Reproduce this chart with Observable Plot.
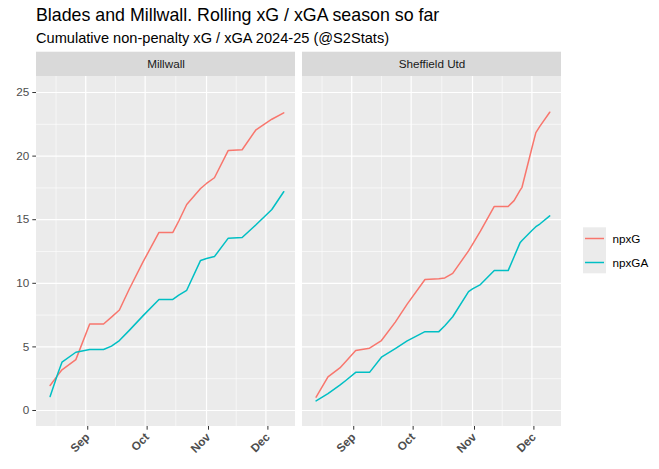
<!DOCTYPE html>
<html><head><meta charset="utf-8">
<script src="https://cdn.jsdelivr.net/npm/d3@7"></script>
<script src="https://cdn.jsdelivr.net/npm/@observablehq/plot@0.6"></script>
<style>
body{margin:0;background:#fff;}
#wrap{width:659px;height:469px;}
</style></head>
<body><div id="wrap"></div>
<script>
const chartTitle = "Blades and Millwall. Rolling xG / xGA season so far";
const chartSubtitle = "Cumulative non-penalty xG / xGA 2024-25 (@S2Stats)";
const teams = ["Millwall", "Sheffield Utd"];
const seriesNames = ["npxG", "npxGA"];
const seriesColors = ["#F8766D", "#00BFC4"];

const millwallDates = ["2024-08-14","2024-08-18","2024-08-20","2024-08-27","2024-09-03","2024-09-10","2024-09-14","2024-09-18","2024-09-23","2024-09-30","2024-10-08","2024-10-15","2024-10-18","2024-10-22","2024-10-29","2024-11-01","2024-11-05","2024-11-12","2024-11-19","2024-11-26","2024-12-01","2024-12-04","2024-12-10"];
const millwallNpxG  = [1.97, 2.8, 3.2, 4.0, 6.8, 6.8, 7.34, 7.9, 9.55, 11.7, 14.0, 14.0, 14.9, 16.2, 17.45, 17.85, 18.3, 20.45, 20.5, 22.07, 22.6, 22.9, 23.4];
const millwallNpxGA = [1.1, 2.95, 3.8, 4.58, 4.8, 4.8, 5.06, 5.5, 6.3, 7.46, 8.73, 8.73, 9.07, 9.45, 11.8, 11.95, 12.1, 13.55, 13.6, 14.6, 15.35, 15.8, 17.2];

const sheffieldDates = ["2024-08-14","2024-08-20","2024-08-26","2024-08-29","2024-09-03","2024-09-10","2024-09-16","2024-09-23","2024-09-29","2024-10-08","2024-10-15","2024-10-18","2024-10-22","2024-10-30","2024-11-01","2024-11-05","2024-11-12","2024-11-19","2024-11-22","2024-11-25","2024-11-26","2024-12-01","2024-12-03","2024-12-05","2024-12-10"];
const sheffieldNpxG  = [1.05, 2.65, 3.35, 3.85, 4.72, 4.9, 5.5, 6.95, 8.36, 10.3, 10.35, 10.42, 10.78, 12.55, 13.06, 14.1, 16.04, 16.04, 16.5, 17.3, 17.55, 20.64, 21.85, 22.34, 23.45];
const sheffieldNpxGA = [0.75, 1.33, 1.99, 2.36, 3.0, 3.0, 4.19, 4.87, 5.47, 6.2, 6.2, 6.66, 7.37, 9.35, 9.56, 9.9, 11.0, 11.0, 12.09, 13.18, 13.36, 14.15, 14.45, 14.66, 15.3];

const xTickDates = ["2024-09-01","2024-10-01","2024-11-01","2024-12-01"];
const yTicks = [0, 5, 10, 15, 20, 25];

// ---- build table ----
const rows = [];
function addTeam(team, dates, g, ga) {
  dates.forEach((d, i) => {
    rows.push({team, date: new Date(d), series: seriesNames[0], value: g[i]});
    rows.push({team, date: new Date(d), series: seriesNames[1], value: ga[i]});
  });
}
addTeam(teams[0], millwallDates, millwallNpxG, millwallNpxGA);
addTeam(teams[1], sheffieldDates, sheffieldNpxG, sheffieldNpxGA);

const DAY = 86400000;
const xMajor = xTickDates.map(d => new Date(d));
const xMinor = [];
xMinor.push(new Date(+xMajor[0] - (xMajor[1] - xMajor[0]) / 2));
for (let i = 0; i < xMajor.length - 1; i++) xMinor.push(new Date((+xMajor[i] + +xMajor[i + 1]) / 2));
const yMinor = yTicks.slice(0, -1).map((v, i) => (v + yTicks[i + 1]) / 2);

const xDomain = [new Date(+xMajor[0] - 24.87 * DAY), new Date(+xMajor[0] + 105.95 * DAY)];
const xMid = new Date((+xDomain[0] + +xDomain[1]) / 2);
const yBottom = -1.258, yPanelTop = 26.26, yStripTop = 28.17;

const W = 659, H = 469;
const font = "'Liberation Sans', Arial, sans-serif";

const plot = Plot.plot({
  width: W, height: H,
  marginLeft: 36, marginRight: 97.4, marginTop: 51.7, marginBottom: 43,
  style: {fontFamily: font, background: "white", overflow: "visible"},
  fx: {domain: teams, paddingInner: 7.1 / 266.4, paddingOuter: 0, axis: null, label: null},
  x: {type: "utc", domain: xDomain, label: null},
  y: {domain: [yBottom, yStripTop], label: null},
  color: {domain: seriesNames, range: seriesColors},
  marks: [
    Plot.rect([0], {x1: () => xDomain[0], x2: () => xDomain[1], y1: () => yBottom, y2: () => yPanelTop, fill: "#EBEBEB"}),
    Plot.rect(teams, {fx: d => d, x1: () => xDomain[0], x2: () => xDomain[1], y1: () => yPanelTop, y2: () => yStripTop, fill: "#D9D9D9"}),
    Plot.text(teams, {fx: d => d, x: () => xMid, y: () => (yPanelTop + yStripTop) / 2, text: d => d, fill: "#1A1A1A", fontSize: 11.7}),
    Plot.ruleY(yMinor, {y: d => d, x1: () => xDomain[0], x2: () => xDomain[1], stroke: "white", strokeWidth: 0.6}),
    Plot.ruleX(xMinor, {x: d => d, y1: () => yBottom, y2: () => yPanelTop, stroke: "white", strokeWidth: 0.6}),
    Plot.ruleY(yTicks, {y: d => d, x1: () => xDomain[0], x2: () => xDomain[1], stroke: "white", strokeWidth: 1.2}),
    Plot.ruleX(xMajor, {x: d => d, y1: () => yBottom, y2: () => yPanelTop, stroke: "white", strokeWidth: 1.2}),
    Plot.line(rows, {fx: "team", x: "date", y: "value", z: "series", stroke: "series", strokeWidth: 1.5}),
    Plot.axisY(yTicks, {tickSize: 3.7, tickPadding: 3.6, fontSize: 11.7, fill: "#4D4D4D", stroke: "#333333", label: null}),
    Plot.axisX(xMajor, {tickSize: 3.7, tickPadding: 5, dx: 2, tickFormat: d3.utcFormat("%b"), tickRotate: -45, fontSize: 11.7, fontWeight: "bold", fill: "#4D4D4D", stroke: "#333333", label: null})
  ]
});

const svg = d3.select(plot);
svg.append("text").attr("x", 36).attr("y", 20.5).attr("font-size", 17.8).attr("fill", "#000")
  .attr("text-anchor", "start").attr("font-family", font).text(chartTitle);
svg.append("text").attr("x", 36).attr("y", 43).attr("font-size", 14.6).attr("fill", "#000")
  .attr("text-anchor", "start").attr("font-family", font).text(chartSubtitle);

const colorScale = plot.scale("color");
const lg = svg.append("g").attr("font-family", font).attr("text-anchor", "start");
lg.append("rect").attr("x", 583).attr("y", 227.3).attr("width", 23).attr("height", 46).attr("fill", "#EBEBEB");
seriesNames.forEach((s, i) => {
  const cy = 238.5 + i * 24;
  lg.append("line").attr("x1", 585).attr("x2", 604).attr("y1", cy).attr("y2", cy)
    .attr("stroke", colorScale.apply(s)).attr("stroke-width", 1.5);
  lg.append("text").attr("x", 612.5).attr("y", cy).attr("dy", "0.35em").attr("font-size", 11.7)
    .attr("fill", "#000").text(s);
});

document.getElementById("wrap").appendChild(plot);
</script>
</body></html>
